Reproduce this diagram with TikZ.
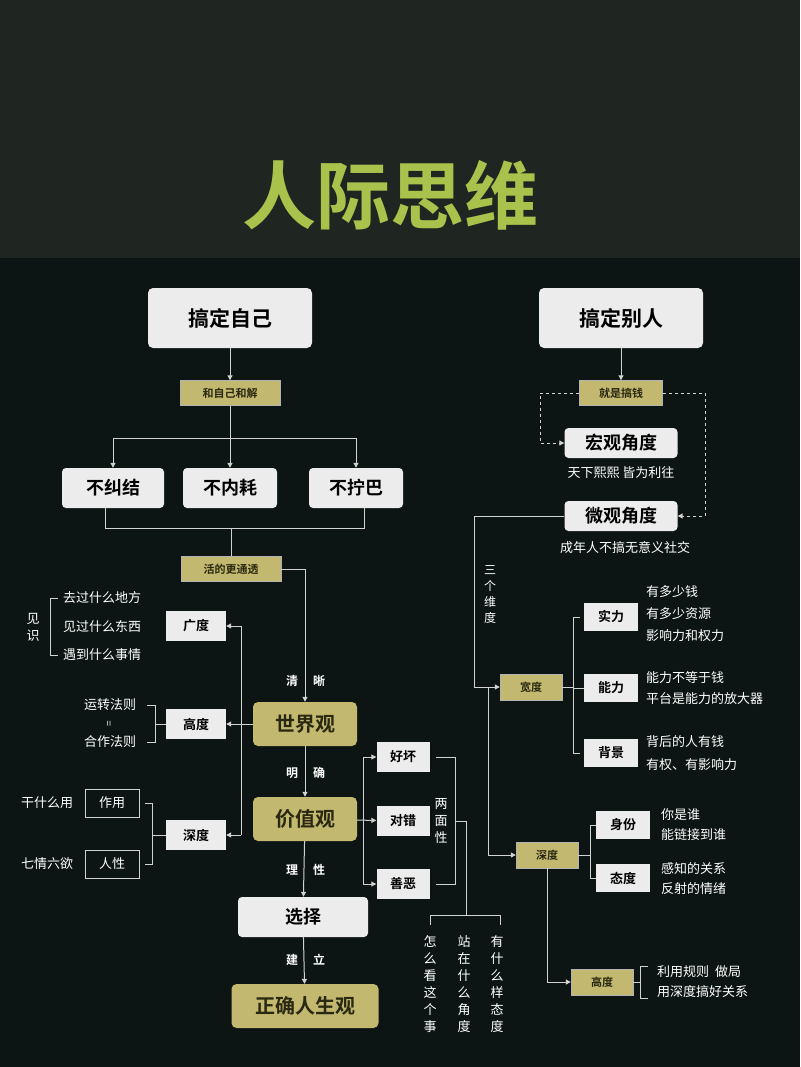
\documentclass[tikz,border=0pt]{standalone}
\usepackage{fontspec}
\setmainfont{Noto Sans CJK SC}
\newfontfamily\cjkb{Noto Sans CJK SC Bold}
\usetikzlibrary{arrows.meta}
\definecolor{topbg}{HTML}{1F2622}
\definecolor{botbg}{HTML}{0C1513}
\definecolor{gold}{HTML}{C2B870}
\definecolor{goldtxt}{HTML}{2A2810}
\definecolor{titlegreen}{HTML}{A9C24C}
\definecolor{boxw}{HTML}{ECECEC}
\definecolor{wire}{HTML}{D2D2D2}
\tikzset{
  bigbox/.style={draw=none,fill=boxw,rounded corners=5pt,font=\cjkb\fontsize{21}{21}\selectfont,
    minimum width=164pt,minimum height=60pt,text=black},
  midbox/.style={draw=none,fill=boxw,rounded corners=4pt,font=\cjkb\fontsize{18}{18}\selectfont,
    minimum width=94pt,minimum height=40pt,text=black},
  goldbig/.style={fill=gold,rounded corners=5pt,font=\cjkb\fontsize{20}{20}\selectfont,
    minimum width=104pt,minimum height=44pt,text=goldtxt},
  goldtag/.style={fill=gold,draw=gray!60,font=\cjkb\fontsize{11}{11}\selectfont,
    minimum width=100pt,minimum height=25pt,text=goldtxt,inner sep=1pt},
  goldsm/.style={goldtag,minimum width=62pt,minimum height=26pt},
  tagbox/.style={fill=boxw,font=\cjkb\fontsize{13}{13}\selectfont,minimum width=60pt,
    minimum height=30pt,text=black,inner sep=1pt},
  linebox/.style={draw=wire,line width=1pt,font=\fontsize{13}{13}\selectfont,minimum width=54pt,
    minimum height=28pt,text=white,inner sep=1pt},
  note/.style={text=white,font=\fontsize{13}{13}\selectfont,inner sep=1pt},
  vnote/.style={note,align=center,font=\fontsize{13}{17}\selectfont},
  wire/.style={draw=wire,line width=1pt},
  arr/.style={wire,-{Triangle[width=5pt,length=5pt]}},
  darr/.style={arr,dashed}
}
\begin{document}
\begin{tikzpicture}[x=1pt,y=-1pt]
\useasboundingbox (0,0) rectangle (800,1067);
\fill[topbg] (0,0) rectangle (800,258);
\fill[botbg] (0,258) rectangle (800,1067);
\node[text=titlegreen,font=\cjkb\fontsize{74}{74}\selectfont] (title) at (390,195) {人际思维};

% left column
\node[bigbox] (self) at (230,318) {搞定自己};
\node[goldtag] (peace) at (230,393) {和自己和解};
\node[midbox,minimum width=102pt] (n1) at (113,488) {不纠结};
\node[midbox] (n2) at (230,488) {不内耗};
\node[midbox] (n3) at (356,488) {不拧巴};
\node[goldtag] (clear) at (231,569) {活的更通透};
\node[goldbig] (world) at (305,724) {世界观};
\node[goldbig] (value) at (305,819) {价值观};
\node[midbox,minimum width=130pt] (choose) at (303,917) {选择};
\node[goldbig,minimum width=147pt] (life) at (305,1006) {正确人生观};

\draw[arr] (self) -- (peace);
\draw[wire] (peace) -- (230,438) coordinate (j1);
\draw[arr] (113,438) -- (n1);
\draw[arr] (j1) -- (n2);
\draw[arr] (356,438) -- (n3);
\draw[wire] (113,438) -- (356,438);
\draw[wire] (105,508) -- (105,528) -- (364,528) -- (364,508);
\draw[wire] (231,528) -- (clear);
\draw[arr] (clear.east) -- (305,569) -- (world);
\draw[arr] (world) -- (value);
\draw[arr] (value) -- (choose);
\draw[arr] (choose) -- (life);
\foreach \y/\a/\b in {681/清/晰,773/明/确,870/理/性,960/建/立}{
  \node[note,font=\cjkb\fontsize{12}{12}\selectfont] at (292,\y) {\a};
  \node[note,font=\cjkb\fontsize{12}{12}\selectfont] at (319,\y) {\b};
}

% world view branches
\node[tagbox] (wide) at (196,626) {广度};
\node[tagbox] (high) at (196,724) {高度};
\node[tagbox] (deep) at (196,835) {深度};
\draw[wire] (241,626) -- (241,835);
\draw[arr] (world) -- (high);
\draw[arr] (241,626) -- (wide);
\draw[arr] (241,835) -- (deep);

\node[vnote] (seen) at (33,627) {见\\识};
\draw[wire] (58,598) -- (50,598) -- (50,655) -- (58,655);
\node[note,anchor=west] (w1) at (62,598) {去过什么地方};
\node[note,anchor=west] (w2) at (62,627) {见过什么东西};
\node[note,anchor=west] (w3) at (62,655) {遇到什么事情};

\node[note] (h1) at (110,705) {运转法则};
\node[note,rotate=90,font=\fontsize{10}{10}\selectfont] (h2) at (110,724) {=};
\node[note] (h3) at (110,742) {合作法则};
\draw[wire] (147,705) -- (155,705) -- (155,742) -- (147,742);
\draw[wire] (155,724) -- (high);

\node[linebox] (use) at (112,803) {作用};
\node[linebox] (human) at (112,864) {人性};
\node[note] at (47,803) {干什么用};
\node[note] at (47,864) {七情六欲};
\draw[wire] (145,803) -- (152,803) -- (152,864) -- (145,864);
\draw[wire] (152,835) -- (deep);

% value branches
\node[tagbox,minimum width=53pt] (good) at (403,757) {好坏};
\node[tagbox,minimum width=53pt] (right) at (403,821) {对错};
\node[tagbox,minimum width=53pt] (moral) at (403,884) {善恶};
\draw[wire] (363,757) -- (363,884);
\draw[arr] (value) -- (right);
\draw[arr] (363,757) -- (good);
\draw[arr] (363,884) -- (moral);
\draw[wire] (436,757) -- (455,757) -- (455,884) -- (436,884);
\node[vnote] (two) at (441,821) {两\\面\\性};
\draw[wire] (455,821) -- (466,821) -- (466,915);
\draw[wire] (430,925) -- (430,915) -- (500,915) -- (500,925);
\node[vnote,anchor=north] (how) at (430,934) {怎\\么\\看\\这\\个\\事};
\node[vnote,anchor=north] (stand) at (464,934) {站\\在\\什\\么\\角\\度};
\node[vnote,anchor=north] (att) at (497,934) {有\\什\\么\\样\\态\\度};

% right column
\node[bigbox] (other) at (621,318) {搞定别人};
\node[goldtag,minimum width=83pt] (money) at (621,393) {就是搞钱};
\node[midbox,minimum width=113pt,minimum height=30pt] (macro) at (621,443) {宏观角度};
\node[note] (macrot) at (621,473) {天下熙熙 皆为利往};
\node[midbox,minimum width=113pt,minimum height=30pt] (micro) at (621,516) {微观角度};
\node[note] (microt) at (625,548) {成年人不搞无意义社交};
\draw[arr] (other) -- (money);
\draw[darr] (money.west) -- (540,393) -- (540,443) -- (macro);
\draw[darr] (money.east) -- (705,393) -- (705,516) -- (micro);

\node[goldsm] (kwide) at (531,687) {宽度};
\node[goldsm] (kdeep) at (547,855) {深度};
\node[goldsm] (khigh) at (602,982) {高度};
\node[vnote,font=\fontsize{12}{16}\selectfont] (three) at (490,595) {三\\个\\维\\度};
\draw[arr] (micro.west) -- (474,516) -- (474,687) -- (kwide);
\draw[arr] (488,687) -- (488,855) -- (kdeep);
\draw[arr] (kdeep) -- (547,982) -- (khigh);

\node[tagbox,minimum width=54pt,minimum height=28pt] (power) at (611,617) {实力};
\node[tagbox,minimum width=54pt,minimum height=28pt] (abil) at (611,688) {能力};
\node[tagbox,minimum width=54pt,minimum height=28pt] (back) at (611,753) {背景};
\draw[wire] (580,617) -- (573,617) -- (573,753) -- (580,753);
\draw[wire] (kwide) -- (573,687);
\draw[wire] (573,688) -- (abil);
\node[note,anchor=west] at (645,592) {有多少钱};
\node[note,anchor=west] at (645,614) {有多少资源};
\node[note,anchor=west] at (645,636) {影响力和权力};
\node[note,anchor=west] at (645,678) {能力不等于钱};
\node[note,anchor=west] at (645,699) {平台是能力的放大器};
\node[note,anchor=west] at (645,742) {背后的人有钱};
\node[note,anchor=west] at (645,765) {有权、有影响力};

\node[tagbox,minimum width=54pt,minimum height=28pt] (ident) at (623,825) {身份};
\node[tagbox,minimum width=54pt,minimum height=28pt] (manner) at (623,878) {态度};
\draw[wire] (kdeep) -- (590,855);
\draw[wire] (ident) -- (590,825) -- (590,878) -- (manner);
\node[note,anchor=west] at (660,815) {你是谁};
\node[note,anchor=west] at (660,835) {能链接到谁};
\node[note,anchor=west] at (660,869) {感知的关系};
\node[note,anchor=west] at (660,889) {反射的情绪};

\draw[wire] (khigh) -- (640,982);
\draw[wire] (648,966) -- (640,966) -- (640,998) -- (648,998);
\node[note,anchor=west] at (656,972) {利用规则\ \ 做局};
\node[note,anchor=west] at (656,992) {用深度搞好关系};
\end{tikzpicture}
\end{document}
